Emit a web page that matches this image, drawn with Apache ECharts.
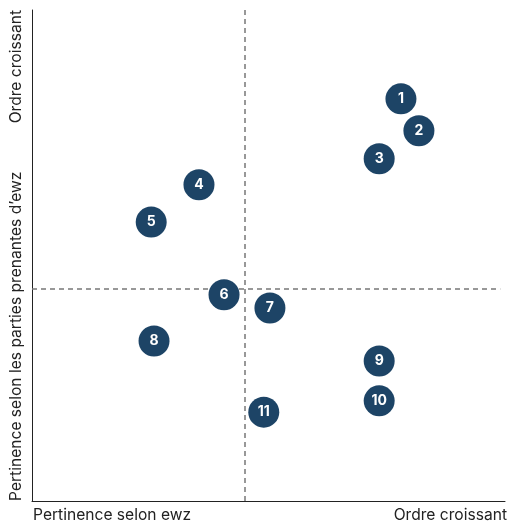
<!DOCTYPE html>
<html><head><meta charset="utf-8">
<script src="https://cdn.jsdelivr.net/npm/echarts@6/dist/echarts.min.js"></script>
<style>html,body{margin:0;padding:0;background:#fff}#c{width:510px;height:527px}</style>
</head><body><div id="c"></div>
<script>
const labels = ['1','2','3','4','5','6','7','8','9','10','11'];
const xValues = [78.0, 81.8, 73.4, 35.3, 25.2, 40.6, 50.3, 25.8, 73.4, 73.4, 49.0];
const yValues = [81.9, 75.4, 69.7, 64.4, 56.8, 42.0, 39.3, 32.6, 28.5, 20.4, 18.1];
const xDivider = 45.0;
const yDivider = 43.2;
const xAxisTexts = ['Pertinence selon ewz', 'Ordre croissant'];
const yAxisTexts = ['Pertinence selon les parties prenantes d\u2019ewz', 'Ordre croissant'];

const chart = echarts.init(document.getElementById('c'));
const font = 'Inter, Liberation Sans, Arial, sans-serif';
const fs = '15.6px ';
const data = labels.map((l, i) => [xValues[i], yValues[i], l]);
chart.setOption({
  animation: false,
  grid: { left: 32, right: 5, top: 10, bottom: 26 },
  xAxis: { type: 'value', min: 0, max: 100, axisLine: { lineStyle: { color: '#222', width: 1 } },
    axisTick: { show: false }, axisLabel: { show: false }, splitLine: { show: false } },
  yAxis: { type: 'value', min: 0, max: 100, axisLine: { show: true, lineStyle: { color: '#222', width: 1 } },
    axisTick: { show: false }, axisLabel: { show: false }, splitLine: { show: false } },
  series: [{
    type: 'scatter', data: data, symbolSize: 31,
    itemStyle: { color: '#1d4466', opacity: 1 },
    label: { show: true, formatter: p => p.data[2], color: '#fff', fontWeight: 'bold', fontSize: 14, fontFamily: font },
    markLine: { silent: true, symbol: 'none', z: 1,
      lineStyle: { color: '#777', type: [5, 4], width: 1.5 },
      label: { show: false },
      data: [
        [{ coord: [xDivider, 0] }, { coord: [xDivider, 100] }],
        [{ coord: [0, yDivider] }, { coord: [99, yDivider] }]
      ] },
    z: 5
  }],
  graphic: [
    { type: 'text', left: 33, top: 507, style: { text: xAxisTexts[0], font: fs + font, fill: '#222' } },
    { type: 'text', right: 3, top: 507, style: { text: xAxisTexts[1], font: fs + font, fill: '#222' } },
    { type: 'text', x: 8, y: 501, rotation: Math.PI / 2, style: { text: yAxisTexts[0], font: fs + font, fill: '#222', align: 'left', verticalAlign: 'top' } },
    { type: 'text', x: 8, y: 10, rotation: Math.PI / 2, style: { text: yAxisTexts[1], font: fs + font, fill: '#222', align: 'right', verticalAlign: 'top' } }
  ]
});
</script></body></html>
